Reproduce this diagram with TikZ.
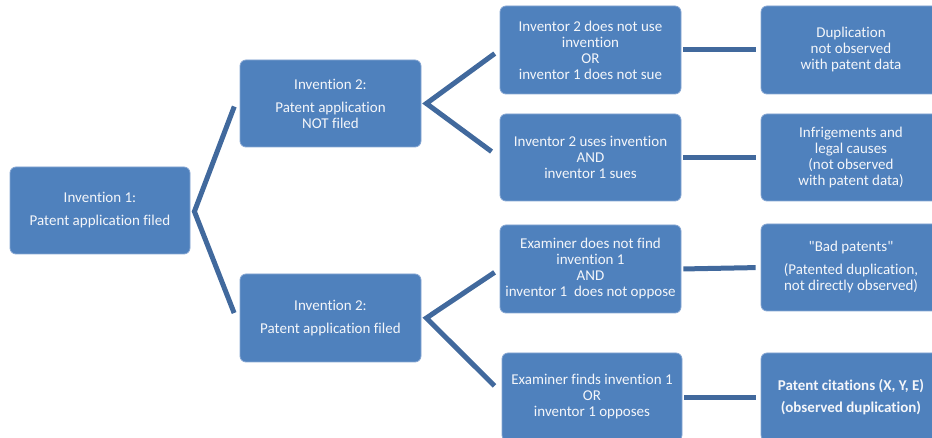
\documentclass[tikz,border=0pt]{standalone}
\usepackage{fontspec}
\setmainfont{Carlito}[Ligatures={TeXOff,NoCommon}]
\usetikzlibrary{calc}
\definecolor{boxfill}{HTML}{4F81BD}
\definecolor{boxedge}{HTML}{86A6D3}
\definecolor{connc}{HTML}{41699D}
\definecolor{txt}{HTML}{F4F6FA}
\tikzset{
  box/.style={rectangle, rounded corners=6pt, fill=boxfill, draw=boxedge, line width=0.8pt,
    text=txt, align=center, minimum width=181pt, minimum height=88pt, inner sep=0pt,
    font=\fontsize{15}{16}\selectfont},
  link/.style={draw=connc, line width=5pt, line join=miter}
}
\begin{document}
\begin{tikzpicture}[x=1pt,y=-1pt]
\useasboundingbox (0,0) rectangle (932,438);
\clip (0,0) rectangle (932,438);
% level 0
\node[box, minimum width=180pt, minimum height=87pt] (root) at (100,210.5) {Invention 1:\\[7pt]Patent application filed};
% level 1
\node[box, minimum height=87pt] (b1) at (330.5,103.5) {Invention 2:\\[7pt]Patent application\\NOT filed};
\node[box] (b2) at (330.5,318) {Invention 2:\\[7pt]Patent application filed};
% level 2
\node[box] (c1) at (590.5,50) {Inventor 2 does not use\\invention\\OR\\inventor 1 does not sue};
\node[box, minimum height=87pt] (c2) at (590.5,157.5) {Inventor 2 uses invention\\AND\\inventor 1 sues};
\node[box] (c3) at (590.5,269) {Examiner does not find\\invention 1\\AND\\inventor 1\ \ does not oppose};
\node[box, minimum width=180pt] (c4) at (592,397) {Examiner finds invention 1\\OR\\inventor 1 opposes};
% level 3
\node[box, minimum width=180pt] (d1) at (851,50) {Duplication\\not observed\\with patent data};
\node[box, minimum width=180pt, minimum height=87pt] (d2) at (851,157.5) {Infrigements and\\legal causes\\(not observed\\with patent data)};
\node[box, minimum width=180pt, minimum height=87pt] (d3) at (851,267.5) {"Bad patents"\\[7pt](Patented duplication,\\not directly observed)};
\node[box, minimum width=180pt] (d4) at (851,397) {\bfseries Patent citations (X, Y, E)\\[6pt]\bfseries (observed duplication)};
% connectors
\draw[link, shorten <=15pt, shorten >=15pt] ($(b1.west)+(0,-11)$) -- ($(root.east)+(4,1)$) -- ($(b2.west)+(0,9)$);
\draw[link, shorten <=6pt, shorten >=10pt] (c1.west) -- ($(b1.east)+(5,0)$) -- (c2.west);
\draw[link, shorten <=6pt, shorten >=10pt] (c3.west) -- ($(b2.east)+(5,0)$) -- ($(c4.west)+(0,-4)$);
\draw[link, shorten <=2pt, shorten >=5pt] (c1.east) -- (d1.west);
\draw[link, shorten <=2pt, shorten >=5pt] (c2.east) -- (d2.west);
\draw[link, shorten <=2pt, shorten >=5pt] (c3.east) -- (d3.west);
\draw[link, shorten <=2pt, shorten >=5pt] (c4.east) -- (d4.west);
\end{tikzpicture}
\end{document}
